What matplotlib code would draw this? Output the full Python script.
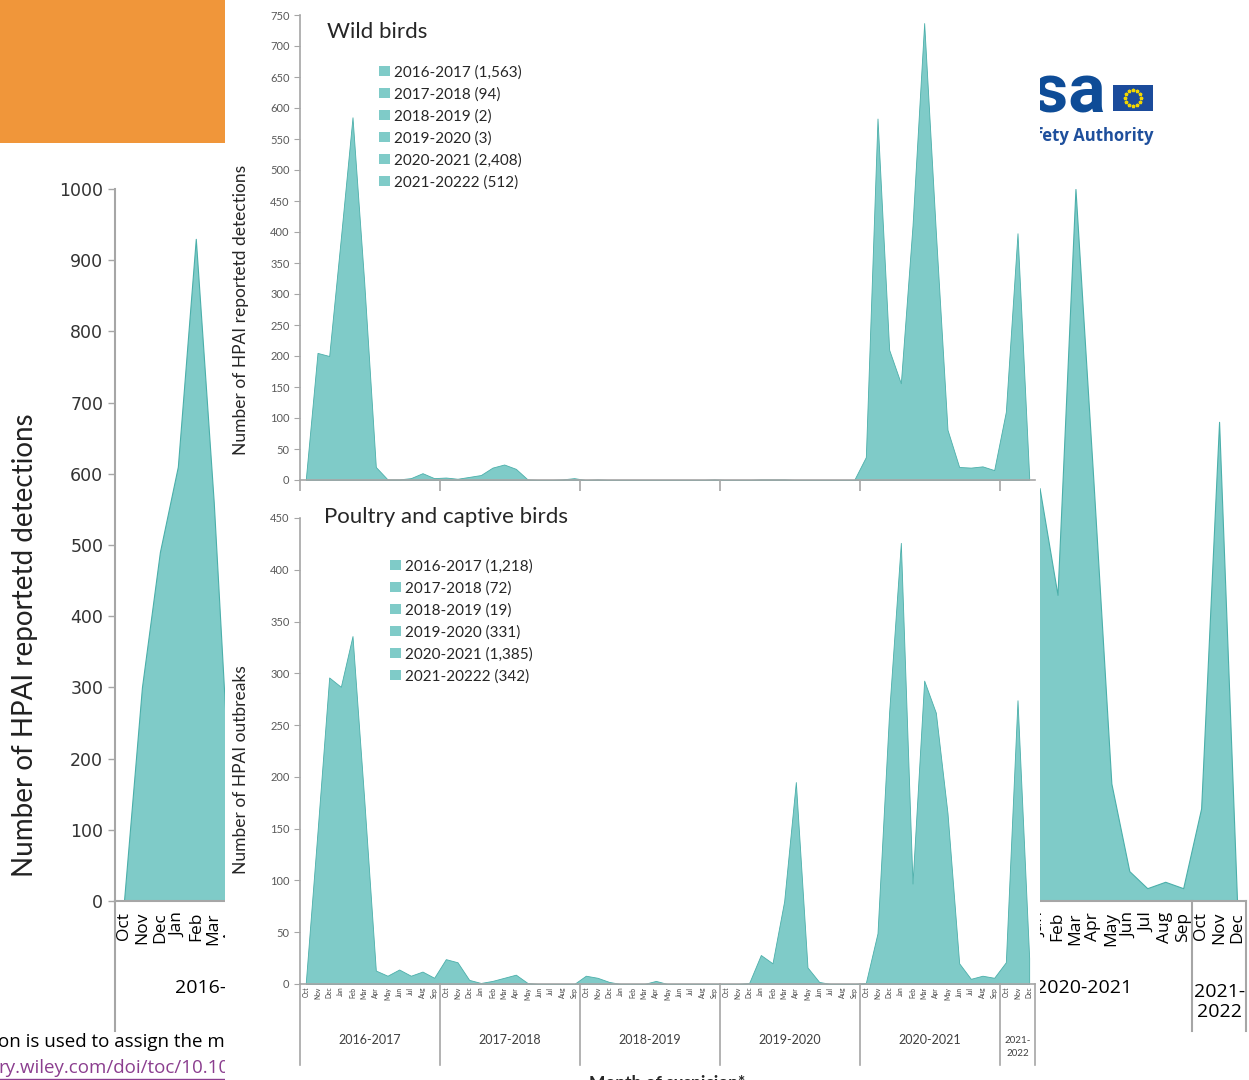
import matplotlib
matplotlib.use('Agg')
import matplotlib.pyplot as plt
import matplotlib.transforms as mtrans
from matplotlib.patches import Rectangle, Patch
import numpy as np

W, H = 1249, 1080

# ---- data ----
months = ['Oct', 'Nov', 'Dec', 'Jan', 'Feb', 'Mar', 'Apr', 'May', 'Jun', 'Jul', 'Aug', 'Sep']
seasons = ['2016-2017', '2017-2018', '2018-2019', '2019-2020', '2020-2021', '2021-\n2022']

# background slide chart (wild birds, y up to 1000), most of it hidden
bg_2016_17 = [0, 300, 490, 610, 930, 560, 100, 10, 5, 5, 15, 5]
bg_2017_18 = [5, 5, 5, 10, 25, 30, 25, 10, 2, 1, 1, 3]
bg_2018_19 = [1, 0, 0, 0, 0, 0, 0, 0, 0, 0, 1, 1]
bg_2019_20 = [0, 0, 0, 1, 1, 1, 0, 0, 0, 0, 0, 0]
bg_2020_21 = [50, 750, 280, 580, 430, 1000, 590, 165, 42, 18, 27, 18]
bg_2021_22 = [130, 673, 0]

# overlay: wild birds
wild_2016_17 = [2, 205, 200, 390, 585, 320, 21, 1, 1, 3, 11, 3]
wild_2017_18 = [4, 2, 5, 8, 20, 25, 18, 1, 0, 0, 1, 3]
wild_2018_19 = [0, 1, 0, 0, 0, 0, 0, 0, 0, 0, 0, 1]
wild_2019_20 = [0, 0, 0, 1, 1, 1, 0, 0, 0, 0, 0, 0]
wild_2020_21 = [37, 583, 210, 156, 410, 737, 400, 81, 21, 20, 22, 16]
wild_2021_22 = [110, 398, 5]
wild_labels = ['2016-2017 (1,563)', '2017-2018 (94)', '2018-2019 (2)',
               '2019-2020 (3)', '2020-2021 (2,408)', '2021-20222 (512)']

# overlay: poultry and captive birds
poul_2016_17 = [2, 147, 296, 287, 336, 179, 13, 8, 14, 8, 12, 6]
poul_2017_18 = [24, 21, 4, 1, 3, 6, 9, 1, 0, 0, 0, 0]
poul_2018_19 = [8, 6, 2, 0, 0, 0, 3, 0, 0, 0, 0, 0]
poul_2019_20 = [0, 0, 1, 28, 20, 80, 195, 16, 2, 0, 0, 0]
poul_2020_21 = [1, 49, 263, 426, 97, 293, 262, 165, 20, 5, 8, 6]
poul_2021_22 = [21, 274, 25]
poul_labels = ['2016-2017 (1,218)', '2017-2018 (72)', '2018-2019 (19)',
               '2019-2020 (331)', '2020-2021 (1,385)', '2021-20222 (342)']

FILL = '#7FCBC8'
EDGE = '#4BAFAA'
GREY = '#A6A6A6'


def px_rect(x0, y0, x1, y1):
    return [x0 / W, 1 - y1 / H, (x1 - x0) / W, (y1 - y0) / H]


def fx(x):
    return x / W


def fy(y):
    return 1 - y / H


bg_vals = bg_2016_17 + bg_2017_18 + bg_2018_19 + bg_2019_20 + bg_2020_21 + bg_2021_22
wild = wild_2016_17 + wild_2017_18 + wild_2018_19 + wild_2019_20 + wild_2020_21 + wild_2021_22
poul = poul_2016_17 + poul_2017_18 + poul_2018_19 + poul_2019_20 + poul_2020_21 + poul_2021_22
n = len(bg_vals)
x = np.arange(n)
month_labels = [months[i % 12] for i in range(n)]
bounds = [-0.5 + 12 * k for k in range(6)] + [n - 0.5]
centers = [(bounds[k] + bounds[k + 1]) / 2 for k in range(6)]

fig = plt.figure(figsize=(W / 100, H / 100), dpi=100)
fig.patch.set_facecolor('white')

# ---------------- background slide ----------------
fig.add_artist(Rectangle((0, fy(143)), fx(225), 143 / H, transform=fig.transFigure,
                         facecolor='#F0963A', edgecolor='none', zorder=0.5))

bg = fig.add_axes(px_rect(115, 189, 1246, 901))
bg.set_zorder(0)
bg.fill_between(x, bg_vals, color=FILL, edgecolor=EDGE, lw=0.8)
bg.set_xlim(-0.5, n - 0.5)
bg.set_ylim(0, 1000)
bg.set_yticks(range(0, 1001, 100))
bg.tick_params(axis='y', labelsize=12.5, colors='#333333', length=5, width=1, color=GREY)
for t in bg.get_yticklabels():
    t.set_family('DejaVu Sans')
bg.set_xticks(x)
bg.set_xticklabels(month_labels, rotation=90, fontsize=12.5, family='Open Sans')
bg.tick_params(axis='x', length=0, pad=8)
for s in ['top', 'right']:
    bg.spines[s].set_visible(False)
bg.spines['left'].set_color(GREY)
bg.spines['bottom'].set_color(GREY)
bg.spines['left'].set_linewidth(1.5)
bg.spines['bottom'].set_linewidth(1.5)
tb = mtrans.blended_transform_factory(bg.transData, bg.transAxes)
for b in bounds:
    bg.plot([b, b], [0, -0.182], transform=tb, clip_on=False, color=GREY, lw=1.5)
for k, c in enumerate(centers):
    yy = -0.142 if '\n' in seasons[k] else -0.122
    bg.text(c, yy, seasons[k], transform=tb, ha='center', va='center',
            fontsize=14, family='Open Sans', linespacing=1.15)
fig.text(fx(25), fy(645), 'Number of HPAI reportetd detections', rotation=90,
         ha='center', va='center', fontsize=20, family='Lato', color='#222222', zorder=0.5)

# logo pieces
fig.text(fx(1106), fy(93), 'efsa', ha='right', va='center', fontsize=50,
         fontweight='bold', family='Roboto', color='#0E4C97', zorder=0.5)
fig.add_artist(Rectangle((fx(1113), fy(111)), 40 / W, 26 / H, transform=fig.transFigure,
                         facecolor='#1B4B9B', edgecolor='none', zorder=0.5))
ang = np.linspace(0, 2 * np.pi, 13)[:-1]
fig.add_artist(plt.Line2D(fx(1133 + 8 * np.cos(ang)), fy(98 + 8 * np.sin(ang)),
                          transform=fig.transFigure, ls='none', marker='*',
                          ms=2.5, color='#F2D500', zorder=0.6))
fig.text(fx(1153), fy(136), 'Food Safety Authority', ha='right', va='center',
         fontsize=12, fontweight='bold', family='Open Sans', color='#1E4F9C', zorder=0.5)

fig.text(fx(-2), fy(1042), 'on is used to assign the month of suspicion', ha='left',
         va='center', fontsize=13.5, family='Open Sans', color='black', zorder=0.5)
fig.text(fx(-2), fy(1068), 'ry.wiley.com/doi/toc/10.1002/(ISSN)1831-4732', ha='left',
         va='center', fontsize=13.5, family='Open Sans', color='#8B3E8F', zorder=0.5)
fig.add_artist(plt.Line2D([0, fx(400)], [fy(1079), fy(1079)], transform=fig.transFigure,
                          color='#8B3E8F', lw=1, zorder=0.5))

# ---------------- pasted overlay ----------------
fig.add_artist(Rectangle((fx(225), 0), (1040 - 225) / W, 1, transform=fig.transFigure,
                         facecolor='white', edgecolor='none', zorder=1))


def overlay(rect, vals, top, step, title, title_xy, ylabel, ylabel_xy, labels, leg_xy):
    ax = fig.add_axes(px_rect(*rect))
    ax.set_zorder(2)
    ax.patch.set_alpha(0)
    ax.fill_between(x, vals, color=FILL, edgecolor=EDGE, lw=0.6)
    ax.set_xlim(-0.5, n - 0.5)
    ax.set_ylim(0, top)
    ax.set_yticks(range(0, top + 1, step))
    ax.tick_params(axis='y', labelsize=8, colors='#595959', length=4, color=GREY)
    for t in ax.get_yticklabels():
        t.set_family('Lato')
    for s in ['top', 'right']:
        ax.spines[s].set_visible(False)
    ax.spines['left'].set_color(GREY)
    ax.spines['bottom'].set_color(GREY)
    ax.spines['left'].set_linewidth(1.2)
    ax.spines['bottom'].set_linewidth(1.2)
    fig.text(fx(title_xy[0]), fy(title_xy[1]), title, ha='left', va='center',
             fontsize=16, family='Lato', color='#262626', zorder=3)
    fig.text(fx(ylabel_xy[0]), fy(ylabel_xy[1]), ylabel, rotation=90, ha='center',
             va='center', fontsize=12.5, family='Lato', color='#262626', zorder=3)
    handles = [Patch(facecolor=FILL, edgecolor='none') for _ in labels]
    leg = ax.legend(handles, labels, loc='upper left',
                    bbox_to_anchor=(fx(leg_xy[0]), fy(leg_xy[1])),
                    bbox_transform=fig.transFigure, frameon=False,
                    prop={'family': 'Lato', 'size': 11}, handlelength=0.7,
                    handleheight=0.7, handletextpad=0.3, labelspacing=0.5,
                    borderpad=0, borderaxespad=0)
    for t in leg.get_texts():
        t.set_color('#262626')
    return ax


top = overlay((300, 15, 1035, 480), wild, 750, 50, 'Wild birds', (327, 32),
              'Number of HPAI reportetd detections', (241, 310), wild_labels, (379, 65))
top.set_xticks(bounds[:-1])
top.set_xticklabels([])
top.tick_params(axis='x', direction='out', length=8, color=GREY, width=1.2)

bot = overlay((300, 518, 1035, 984), poul, 450, 50, 'Poultry and captive birds', (324, 517),
              'Number of HPAI outbreaks', (241, 770), poul_labels, (390, 559))
bot.set_xticks(x)
bot.set_xticklabels(month_labels, rotation=90, fontsize=4.8, family='Lato', color='#404040')
bot.tick_params(axis='x', length=0, pad=2)
tt = mtrans.blended_transform_factory(bot.transData, bot.transAxes)
for b in bounds:
    bot.plot([b, b], [0, -0.174], transform=tt, clip_on=False, color=GREY, lw=1.2)
for k, c in enumerate(centers):
    if '\n' in seasons[k]:
        bot.text(c, -0.135, seasons[k], transform=tt, ha='center', va='center',
                 fontsize=7, family='Lato', color='#404040', linespacing=1.5)
    else:
        bot.text(c, -0.12, seasons[k], transform=tt, ha='center', va='center',
                 fontsize=9, family='Lato', color='#404040')
bot.text(0.5, -0.212, 'Month of suspicion*', transform=bot.transAxes, ha='center',
         va='center', fontsize=12.5, fontweight='bold', family='Lato', color='#262626')

fig.savefig('out.png', dpi=100, facecolor='white')
